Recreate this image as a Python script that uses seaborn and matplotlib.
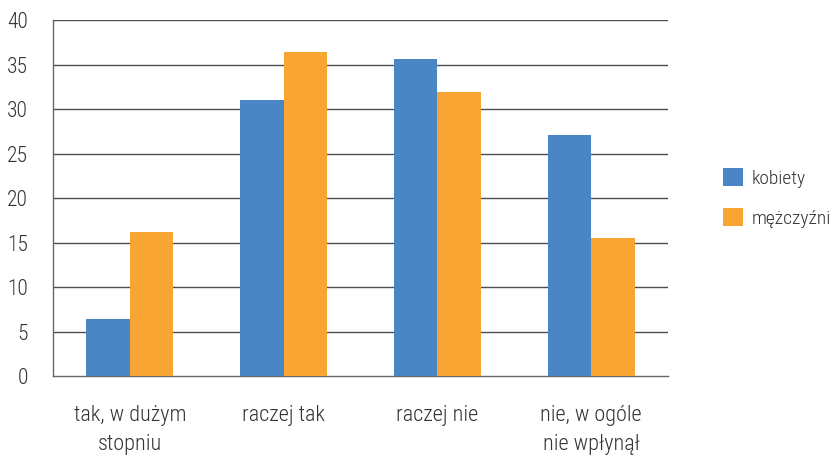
import matplotlib
matplotlib.use("Agg")
import matplotlib.pyplot as plt
import seaborn as sns
import pandas as pd
from matplotlib import font_manager

categories = ["tak, w dużym\nstopniu", "raczej tak", "raczej nie", "nie, w ogóle\nnie wpłynął"]
kobiety = [6.4, 31.0, 35.6, 27.1]
mezczyzni = [16.2, 36.4, 31.9, 15.5]
series_names = ["kobiety", "mężczyźni"]
colors = ["#4A86C6", "#F9A533"]
yticks = [0, 5, 10, 15, 20, 25, 30, 35, 40]

sns.set_style("white")
entries = font_manager.fontManager.ttflist
names = {f.name for f in entries}
fam = None
for cand in ["Roboto Condensed", "Liberation Sans Narrow", "Open Sans Condensed"]:
    if cand in names:
        fam = cand
        break
if fam is None:
    fam = "DejaVu Sans"
    plt.rcParams["font.stretch"] = "condensed"
plt.rcParams["font.family"] = [fam, "DejaVu Sans"]
plt.rcParams["font.weight"] = "light"

df = pd.DataFrame({
    "cat": categories * 2,
    "val": kobiety + mezczyzni,
    "series": [series_names[0]] * 4 + [series_names[1]] * 4,
})

fig = plt.figure(figsize=(8.31, 4.59), dpi=100)
ax = fig.add_axes([0.0638, 0.1808, 0.7401, 0.7756])
sns.barplot(data=df, x="cat", y="val", hue="series", palette=colors, width=0.566,
            saturation=1, ax=ax, zorder=3, legend=True, linewidth=0, edgecolor="none")

txt = "#333333"
ax.set_ylim(0, 40)
ax.set_xlim(-0.5, 3.5)
ax.set_yticks(yticks)
ax.set_yticklabels([str(t) for t in yticks], fontsize=15.5, color=txt)
for y in yticks[1:]:
    ax.axhline(y, color="#4d4d4d", lw=1, zorder=1)
ax.set_xticks([-0.5, 0.5, 1.5, 2.5, 3.5])
ax.set_xticklabels([])
ax.set_xticks(range(4), minor=True)
ax.set_xticklabels(categories, minor=True, fontsize=16, color=txt, linespacing=1.5, va="top")
ax.tick_params(axis="x", which="major", length=7, width=1, color="#555555", direction="out")
ax.tick_params(axis="x", which="minor", length=0, pad=21)
ax.tick_params(axis="y", length=7, width=1, color="#555555", direction="out", pad=11)
for s in ["top", "right"]:
    ax.spines[s].set_visible(False)
for s in ["left", "bottom"]:
    ax.spines[s].set_color("#666666")
    ax.spines[s].set_linewidth(1)
ax.set_xlabel("")
ax.set_ylabel("")

leg = ax.legend(loc="center left", bbox_to_anchor=(1.09, 0.5), frameon=False, fontsize=14,
                handlelength=1.0, handleheight=1.0, labelspacing=1.05, handletextpad=0.45,
                borderaxespad=0, borderpad=0)
for t in leg.get_texts():
    t.set_color(txt)

fig.savefig("out.png", dpi=100)
